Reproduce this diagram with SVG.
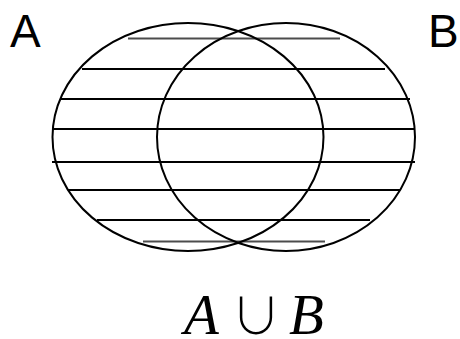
<svg xmlns="http://www.w3.org/2000/svg" width="460" height="339" viewBox="0 0 460 339">
<style>
.s{fill:none;stroke:#000;stroke-width:2}
.h{stroke:#000;stroke-width:2}
.lbl{font-family:"Liberation Sans",Arial,sans-serif;font-size:46px;fill:#000}
.m{font-family:"Liberation Serif","Times New Roman",serif;font-size:57px;fill:#000}
.u{font-family:"Noto Sans CJK JP","DejaVu Serif",serif;font-weight:300;font-size:50px;fill:#000}
</style>
<rect width="460" height="339" fill="#fff"/>
<g id="hatch">
<line class="h" x1="128" y1="38.5" x2="340" y2="38.5" stroke-opacity="0.7"/>
<line class="h" x1="82" y1="69" x2="385" y2="69"/>
<line class="h" x1="61" y1="99" x2="410" y2="99"/>
<line class="h" x1="53" y1="129" x2="415" y2="129"/>
<line class="h" x1="52" y1="162" x2="415" y2="162"/>
<line class="h" x1="68" y1="190" x2="400" y2="190"/>
<line class="h" x1="97" y1="220" x2="370" y2="220"/>
<line class="h" x1="143" y1="241.5" x2="325" y2="241.5" stroke-opacity="0.7"/>
</g>
<g id="setA">
<ellipse class="s" cx="188" cy="137" rx="135.5" ry="114"/>
<text class="lbl" x="10" y="47">A</text>
</g>
<g id="setB">
<ellipse class="s" cx="286" cy="137" rx="129" ry="114"/>
<text class="lbl" x="428" y="47">B</text>
</g>
<g id="caption">
<text class="m" x="184" y="334" font-style="italic">A</text>
<text class="u" x="231" y="334">∪</text>
<text class="m" x="289" y="334" font-style="italic">B</text>
</g>
</svg>
